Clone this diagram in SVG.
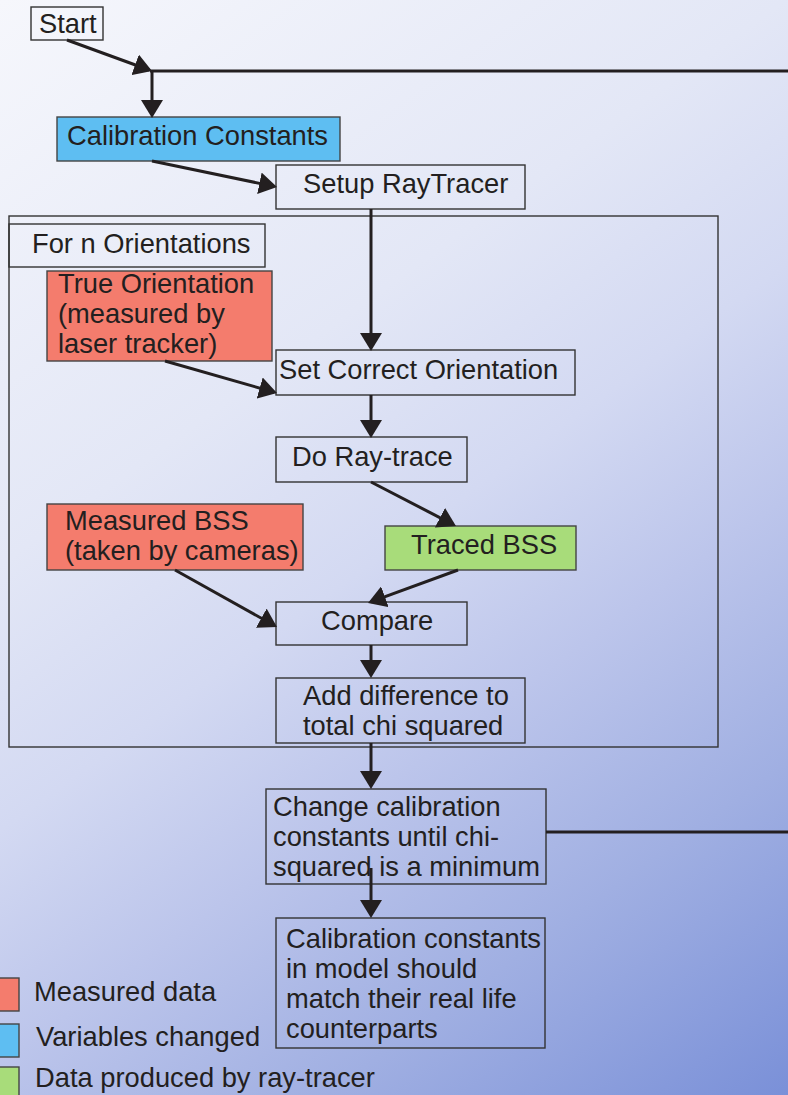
<svg xmlns="http://www.w3.org/2000/svg" width="788" height="1095" viewBox="0 0 788 1095">
<defs>
<linearGradient id="bg" x1="0" y1="0" x2="788" y2="1095" gradientUnits="userSpaceOnUse">
<stop offset="0" stop-color="#f6f7fc"/>
<stop offset="0.34" stop-color="#e3e7f6"/>
<stop offset="0.5" stop-color="#d3d9f2"/>
<stop offset="0.64" stop-color="#bcc5eb"/>
<stop offset="0.8" stop-color="#a0afe2"/>
<stop offset="1" stop-color="#7a90d8"/>
</linearGradient>
<marker id="ah" markerUnits="userSpaceOnUse" viewBox="0 0 18 22" refX="15" refY="11" markerWidth="18" markerHeight="22" orient="auto">
<path d="M0,0 L18,11 L0,22 z" fill="#231f20"/>
</marker>
<style>
.box{fill:none;stroke:#333;stroke-width:1.4}
.red{fill:#f47c6d;stroke:#444;stroke-width:1.4}
.blue{fill:#5ebef2;stroke:#444;stroke-width:1.4}
.green{fill:#a8dc7a;stroke:#444;stroke-width:1.4}
.t{font-family:"Liberation Sans",Arial,sans-serif;font-size:27.3px;fill:#231f20}
.c{fill:none;stroke:#231f20;stroke-width:3}
.a{marker-end:url(#ah)}
</style>
</defs>
<rect x="0" y="0" width="788" height="1095" fill="url(#bg)"/>

<g id="loop">
<rect class="box" x="9" y="216" width="709" height="531"/>
</g>
<g id="loop-label">
<rect class="box" x="9" y="224" width="256" height="43"/>
<text class="t" x="32" y="253">For n Orientations</text>
</g>

<g id="start">
<rect class="box" x="31" y="7" width="72" height="33"/>
<text class="t" x="39" y="33">Start</text>
</g>
<g id="cal-constants">
<rect class="blue" x="57" y="117" width="283" height="44"/>
<text class="t" x="67" y="145">Calibration Constants</text>
</g>
<g id="setup">
<rect class="box" x="276" y="165" width="249" height="44"/>
<text class="t" x="303" y="193">Setup RayTracer</text>
</g>
<g id="true-orientation">
<rect class="red" x="47" y="271" width="225" height="90"/>
<text class="t" x="58" y="293">True Orientation</text>
<text class="t" x="58" y="323">(measured by</text>
<text class="t" x="58" y="353">laser tracker)</text>
</g>
<g id="set-orientation">
<rect class="box" x="276" y="350" width="299" height="45"/>
<text class="t" x="279" y="379">Set Correct Orientation</text>
</g>
<g id="raytrace">
<rect class="box" x="276" y="437" width="191" height="45"/>
<text class="t" x="292" y="466">Do Ray-trace</text>
</g>
<g id="measured-bss">
<rect class="red" x="47" y="504" width="256" height="66"/>
<text class="t" x="65" y="530">Measured BSS</text>
<text class="t" x="65" y="560">(taken by cameras)</text>
</g>
<g id="traced-bss">
<rect class="green" x="385" y="526" width="191" height="44"/>
<text class="t" x="411" y="554">Traced BSS</text>
</g>
<g id="compare">
<rect class="box" x="276" y="602" width="191" height="43"/>
<text class="t" x="321" y="630">Compare</text>
</g>
<g id="add-diff">
<rect class="box" x="276" y="678" width="249" height="65"/>
<text class="t" x="303" y="705">Add difference to</text>
<text class="t" x="303" y="735">total chi squared</text>
</g>
<g id="change">
<rect class="box" x="266" y="789" width="280" height="95"/>
<text class="t" x="273" y="816">Change calibration</text>
<text class="t" x="273" y="846">constants until chi-</text>
<text class="t" x="273" y="876">squared is a minimum</text>
</g>
<g id="result">
<rect class="box" x="276" y="918" width="269" height="130"/>
<text class="t" x="286" y="948">Calibration constants</text>
<text class="t" x="286" y="978">in model should</text>
<text class="t" x="286" y="1008">match their real life</text>
<text class="t" x="286" y="1038">counterparts</text>
</g>

<g id="legend">
<rect class="red" x="-2" y="978" width="21" height="33"/>
<text class="t" x="34" y="1001">Measured data</text>
<rect class="blue" x="-2" y="1024" width="21" height="33"/>
<text class="t" x="36" y="1046">Variables changed</text>
<rect class="green" x="-2" y="1067" width="21" height="33"/>
<text class="t" x="35" y="1087">Data produced by ray-tracer</text>
</g>

<g id="connectors">
<line class="c a" x1="67" y1="40" x2="149.2" y2="70"/>
<line class="c" x1="150" y1="71" x2="790" y2="71"/>
<line class="c a" x1="152" y1="71" x2="152" y2="115"/>
<line class="c a" x1="152" y1="161" x2="274.1" y2="186.4"/>
<line class="c a" x1="371" y1="209" x2="371" y2="348"/>
<line class="c a" x1="165" y1="361" x2="274.1" y2="392.2"/>
<line class="c a" x1="371" y1="395" x2="371" y2="435"/>
<line class="c a" x1="371" y1="482" x2="453.3" y2="524.6"/>
<line class="c a" x1="458" y1="570" x2="370.8" y2="601.9"/>
<line class="c a" x1="175" y1="570" x2="274.4" y2="625.5"/>
<line class="c a" x1="371" y1="645" x2="371" y2="675"/>
<line class="c a" x1="371" y1="743" x2="371" y2="786"/>
<line class="c" x1="546" y1="832" x2="790" y2="832"/>
<line class="c a" x1="371" y1="868" x2="371" y2="915"/>
</g>
</svg>
